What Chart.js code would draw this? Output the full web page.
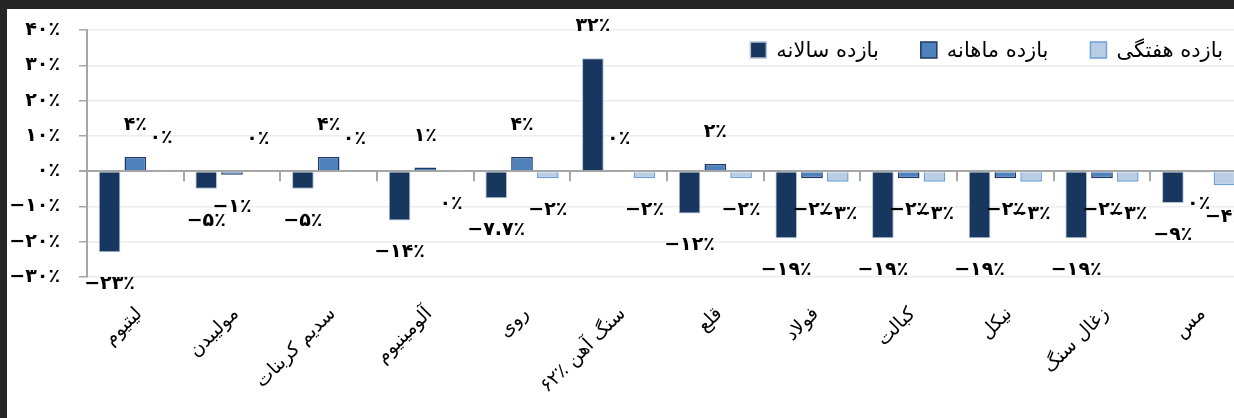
<!DOCTYPE html>
<html>
<head>
<meta charset="utf-8">
<script src="https://cdn.jsdelivr.net/npm/chart.js@4.4.1/dist/chart.umd.min.js"></script>
<style>
    html, body { margin: 0; padding: 0; width: 1234px; height: 418px; overflow: hidden; background: #262626; }
    #sheet { position: absolute; left: 7px; top: 9px; width: 1300px; height: 460px; background: #fff; }
    #chart { position: absolute; left: 0; top: 0; }
</style>
</head>
<body>
<div id="sheet">
    <canvas id="chart" width="1250" height="450" style="width:1250px;height:450px"></canvas>
</div>
<script>
// دسته‌ها و سری‌ها
const categories = ['لیتیوم', 'مولیبدن', 'سدیم کربنات', 'آلومینیوم', 'روی', 'سنگ آهن ٪۶۲', 'قلع', 'فولاد', 'کبالت', 'نیکل', 'زغال سنگ', 'مس'];
const seriesNames = ['بازده سالانه', 'بازده ماهانه', 'بازده هفتگی'];
const annualReturn = [-23, -5, -5, -14, -7.7, 32, -12, -19, -19, -19, -19, -9];
const monthlyReturn = [4, -1, 4, 1, 4, 0, 2, -2, -2, -2, -2, -0.4];
const weeklyReturn = [0.4, 0, 0, -0.4, -2, -2, -2, -3, -3, -3, -3, -4];
const yTicks = [-30, -20, -10, 0, 10, 20, 30, 40];

const FA_DIGITS = '۰۱۲۳۴۵۶۷۸۹';
const toFa = (v) => {
    const n = Math.abs(v) < 0.5 ? 0 : v;
    const s = String(Math.abs(n)).replace(/[0-9]/g, d => FA_DIGITS[d]);
    return (n < 0 ? '−' : '') + s + '٪';
};

// برچسب مقدار روی میله‌ها
const valueLabels = {
    id: 'valueLabels',
    afterDatasetsDraw(chart) {
        const ctx = chart.ctx;
        ctx.save();
        ctx.font = 'bold 19px "DejaVu Sans"';
        ctx.fillStyle = '#000';
        ctx.textAlign = 'center';
        ctx.textBaseline = 'middle';
        chart.data.datasets.forEach((ds, i) => {
            chart.getDatasetMeta(i).data.forEach((bar, j) => {
                const v = ds.data[j];
                const y = v >= 0 ? bar.y - 32 : bar.y + 32;
                ctx.fillText(toFa(v), bar.x, y);
            });
        });
        ctx.restore();
    }
};

// تیک‌های محور دسته روی خط صفر
const zeroTicks = {
    id: 'zeroTicks',
    afterDatasetsDraw(chart) {
        const xs = chart.scales.x, ys = chart.scales.y;
        const y0 = ys.getPixelForValue(0);
        const ctx = chart.ctx;
        ctx.save();
        ctx.strokeStyle = '#a6a6a6';
        ctx.lineWidth = 2;
        for (let i = 1; i <= categories.length; i++) {
            const px = Math.round(xs.getPixelForValue(i - 0.5));
            ctx.beginPath();
            ctx.moveTo(px, y0);
            ctx.lineTo(px, y0 + 10);
            ctx.stroke();
        }
        ctx.restore();
    }
};

// راهنما داخل ناحیه نمودار، بالا سمت راست
const insideLegend = {
    id: 'insideLegend',
    afterDraw(chart) {
        const ctx = chart.ctx;
        const area = chart.chartArea;
        const cy = area.top + 20;
        let x = area.right - 24;
        ctx.save();
        ctx.font = '21px "DejaVu Sans"';
        ctx.textBaseline = 'middle';
        ctx.textAlign = 'left';
        const sets = chart.data.datasets.slice().reverse();
        sets.forEach((ds) => {
            const w = ctx.measureText(ds.label).width;
            x -= w;
            ctx.fillStyle = '#000';
            ctx.fillText(ds.label, x, cy + 2);
            x -= 10 + 16;
            ctx.fillStyle = ds.backgroundColor;
            ctx.fillRect(x, cy - 8, 16, 16);
            ctx.strokeStyle = ds.borderColor;
            ctx.lineWidth = 1.5;
            ctx.strokeRect(x, cy - 8, 16, 16);
            x -= 42;
        });
        ctx.restore();
    }
};

new Chart(document.getElementById('chart'), {
    type: 'bar',
    data: {
        labels: categories,
        datasets: [
            { label: seriesNames[0], data: annualReturn, backgroundColor: '#17375e', borderColor: '#b4c2d6', borderWidth: 1 },
            { label: seriesNames[1], data: monthlyReturn, backgroundColor: '#4f81bd', borderColor: '#1f3864', borderWidth: 1.5 },
            { label: seriesNames[2], data: weeklyReturn, backgroundColor: '#b9cde5', borderColor: '#6f9fd8', borderWidth: 1.5 }
        ]
    },
    options: {
        responsive: false,
        animation: false,
        categoryPercentage: 0.8,
        barPercentage: 0.84,
        layout: { padding: { top: 21, right: 10, left: 0, bottom: 0 } },
        plugins: {
            legend: { display: false },
            tooltip: { enabled: false }
        },
        scales: {
            x: {
                grid: { display: false, drawTicks: false },
                border: { display: false },
                ticks: {
                    autoSkip: false,
                    maxRotation: 45,
                    minRotation: 45,
                    labelOffset: 4,
                    padding: 26,
                    color: '#000',
                    font: { size: 19, family: 'DejaVu Sans' }
                },
                afterFit: (s) => { s.height = 182; }
            },
            y: {
                min: -30,
                max: 40,
                afterBuildTicks: (s) => { s.ticks = yTicks.map(v => ({ value: v })); },
                grid: {
                    color: (c) => c.tick && c.tick.value === 0 ? '#a6a6a6' : '#ececec',
                    lineWidth: (c) => c.tick && c.tick.value === 0 ? 2 : 1.5,
                    tickColor: '#a6a6a6',
                    tickLength: 8
                },
                border: { color: '#a6a6a6', width: 2 },
                ticks: {
                    padding: 19,
                    color: '#000',
                    font: { size: 19, weight: 'bold', family: 'DejaVu Sans' },
                    callback: (v) => toFa(v)
                },
                afterFit: (s) => {
                    s.width = 80;
                    s.paddingTop = 0;
                    s.paddingBottom = 0;
                }
            }
        }
    },
    plugins: [valueLabels, zeroTicks, insideLegend]
});
</script>
</body>
</html>
